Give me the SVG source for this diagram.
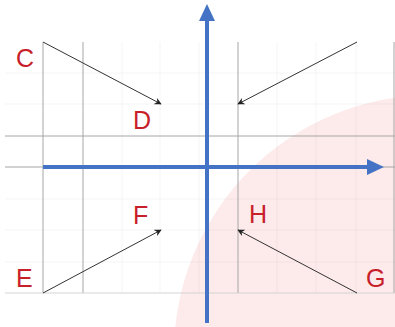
<svg xmlns="http://www.w3.org/2000/svg" width="395" height="327" viewBox="0 0 395 327">
<style>
.faint{stroke:#000;stroke-opacity:0.04;stroke-width:1;fill:none}
.major{stroke:#a6a6a6;stroke-width:1;fill:none}
.axis{stroke:#4472c4;stroke-width:4;fill:none}
.vec{stroke:#333;stroke-width:1;fill:none}
.lbl{font-family:"Liberation Sans",Arial,sans-serif;font-size:25px;fill:#c8202a}
</style>
<defs>
<marker id="ah" viewBox="0 0 10 10" refX="9" refY="5" markerWidth="7" markerHeight="7" markerUnits="userSpaceOnUse" orient="auto">
<path d="M0,0 L10,5 L0,10 L3,5 Z" fill="#222"/>
</marker>
</defs>
<rect width="395" height="327" fill="#fff"/>
<circle cx="432" cy="353" r="258" fill="#fdeaea"/>
<g id="grid">
<path class="faint" d="M122,42V293M160,42V293M199,42V293M277,42V293M316,42V293M356,42V293M5,73H395M5,104H395M5,199H395M5,230H395M5,262H395"/>
<path class="major" d="M43,42V293M83,42V293M238,42V293M394,42V293M5,136H395M5,167H395"/>
<path d="M5,293H395" stroke="#d4d4d4" stroke-width="1"/>
</g>
<g id="axes">
<path class="axis" d="M43,167H369"/>
<path d="M367,159L384,167L367,175Z" fill="#4472c4"/>
<path class="axis" d="M207,323V19"/>
<path d="M199,21L207,4L215,21Z" fill="#4472c4"/>
</g>
<g id="connectors">
<path class="vec" d="M43,42L161,104" marker-end="url(#ah)"/>
<path class="vec" d="M357,42L238,104" marker-end="url(#ah)"/>
<path class="vec" d="M43,293L161,230" marker-end="url(#ah)"/>
<path class="vec" d="M357,293L238,230" marker-end="url(#ah)"/>
</g>
<g id="C"><text class="lbl" x="16" y="67">C</text></g>
<g id="D"><text class="lbl" x="133" y="129">D</text></g>
<g id="E"><text class="lbl" x="16" y="287">E</text></g>
<g id="F"><text class="lbl" x="133" y="224">F</text></g>
<g id="H"><text class="lbl" x="249" y="223">H</text></g>
<g id="G"><text class="lbl" x="366" y="287">G</text></g>
</svg>
